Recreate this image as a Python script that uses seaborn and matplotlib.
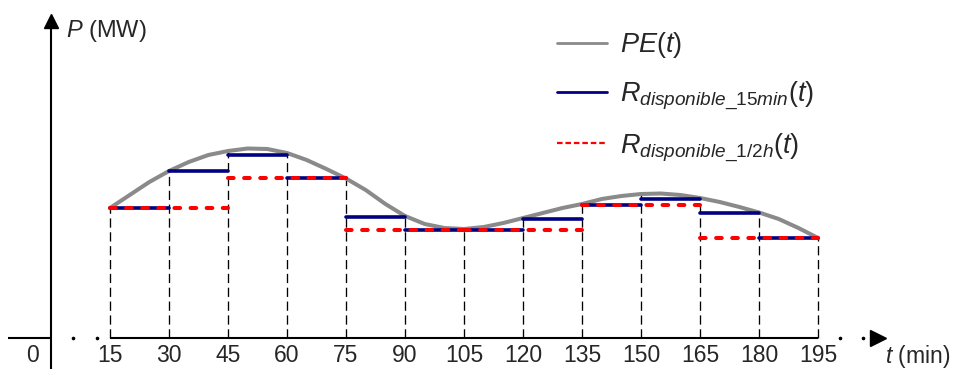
import matplotlib
matplotlib.use("Agg")
import matplotlib.pyplot as plt
from matplotlib.lines import Line2D
import pandas as pd
import seaborn as sns

# PE(t) every 5 min
t_curve = [15, 20, 25, 30, 35, 40, 45, 50, 55, 60, 65, 70, 75, 80, 85, 90, 95,
           100, 105, 110, 115, 120, 125, 130, 135, 140, 145, 150, 155, 160,
           165, 170, 175, 180, 185, 190, 195]
pe_curve = [130, 143, 156, 167, 176, 183, 187, 189.5, 189, 185, 178, 169,
            159.5, 148, 134, 122, 114, 110, 109, 111, 115, 120, 125, 130, 134,
            139, 142, 144, 144.5, 143, 140, 136, 131, 125.5, 119, 110, 100]

# 15 min reserve levels (one per quarter hour)
t15_start = [15, 30, 45, 60, 75, 90, 105, 120, 135, 150, 165, 180]
r15 = [130, 167, 183, 160, 121, 108, 108, 119.5, 133, 139, 125.5, 100]

# 1/2 h reserve levels
t30_start = [15, 45, 75, 105, 135, 165]
r30 = [130, 160, 108, 108, 133, 100]

tick_times = [15, 30, 45, 60, 75, 90, 105, 120, 135, 150, 165, 180, 195]

GRAY = "#8a8a8a"
NAVY = "#000080"
RED = "#ff0000"
FS = 16.5


def step_frame(starts, width, levels):
    rows = []
    for i, (s, v) in enumerate(zip(starts, levels)):
        rows.append({"seg": i, "t": s, "P": v})
        rows.append({"seg": i, "t": s + width, "P": v})
    return pd.DataFrame(rows)


sns.set_style("white")
plt.rcParams["font.family"] = ["Liberation Sans", "DejaVu Sans"]
plt.rcParams["mathtext.fontset"] = "custom"
plt.rcParams["mathtext.rm"] = "Liberation Sans"
plt.rcParams["mathtext.it"] = "Liberation Sans:italic"
plt.rcParams["mathtext.bf"] = "Liberation Sans:bold"

df_pe = pd.DataFrame({"t": t_curve, "P": pe_curve})
df15 = step_frame(t15_start, 15, r15)
df30 = step_frame(t30_start, 30, r30)

fig = plt.figure(figsize=(9.55, 3.69), dpi=100)
ax = fig.add_axes([0, 0, 1, 1])
ax.set_xlim(-12.97, 229.8)
ax.set_ylim(-31, 338)

# vertical guides up to the curve
top = df_pe.set_index("t").loc[tick_times, "P"]
ax.vlines(tick_times, 0, top.values, colors="black", lw=0.95,
          linestyles=(0, (7, 3.5)), zorder=1)

sns.lineplot(data=df_pe, x="t", y="P", color=GRAY, lw=2.9, ax=ax,
             solid_capstyle="round", zorder=2)
sns.lineplot(data=df15, x="t", y="P", units="seg", estimator=None,
             color=NAVY, lw=2.6, solid_capstyle="round", ax=ax, zorder=3)
sns.lineplot(data=df30, x="t", y="P", units="seg", estimator=None,
             color=RED, lw=2.9, linestyle=(0, (1.4, 2.6)),
             dash_capstyle="round", ax=ax, zorder=4)
ax.axis("off")

# axes drawn by hand (with the break dots)
ax.plot([-10.9, 0.3], [0, 0], color="black", lw=1.5, solid_capstyle="butt")
ax.plot([15, 195], [0, 0], color="black", lw=1.5, solid_capstyle="butt")
ax.plot([5.6, 11.7, 200.6, 206.5], [0, 0, 0, 0], ls="none", marker="o",
        ms=1.6, color="black")
ax.plot(210.2, 0, marker=">", ms=12, color="black", clip_on=False)
ax.plot([0, 0], [-31, 312], color="black", lw=1.5, solid_capstyle="butt")
ax.plot(0, 317.5, marker="^", ms=10, color="black", clip_on=False)

for t in tick_times:
    ax.text(t, -17, str(t), ha="center", va="center", fontsize=FS)
ax.text(-4.6, -17, "0", ha="center", va="center", fontsize=FS)
ax.text(3.9, 301, r"$P$ (MW)", ha="left", va="baseline", fontsize=FS + 0.5)
ax.text(211.9, -24.5, r"$t$ (min)", ha="left", va="baseline", fontsize=FS)

handles = [
    Line2D([], [], color=GRAY, lw=2.0),
    Line2D([], [], color=NAVY, lw=2.0),
    Line2D([], [], color=RED, lw=1.6, linestyle=(0, (2.5, 1.3))),
]
labels = [
    r"$\mathit{PE}(t)$",
    r"$R_{\mathit{disponible\_15min}}(t)$",
    r"$R_{\mathit{disponible\_1/2h}}(t)$",
]
ax.legend(handles, labels, loc="upper left", bbox_to_anchor=(0.583, 0.918),
          frameon=False, fontsize=19.5, handlelength=1.85,
          handletextpad=0.48, labelspacing=0.7, borderpad=0,
          borderaxespad=0)

fig.savefig("out.png", dpi=100)
